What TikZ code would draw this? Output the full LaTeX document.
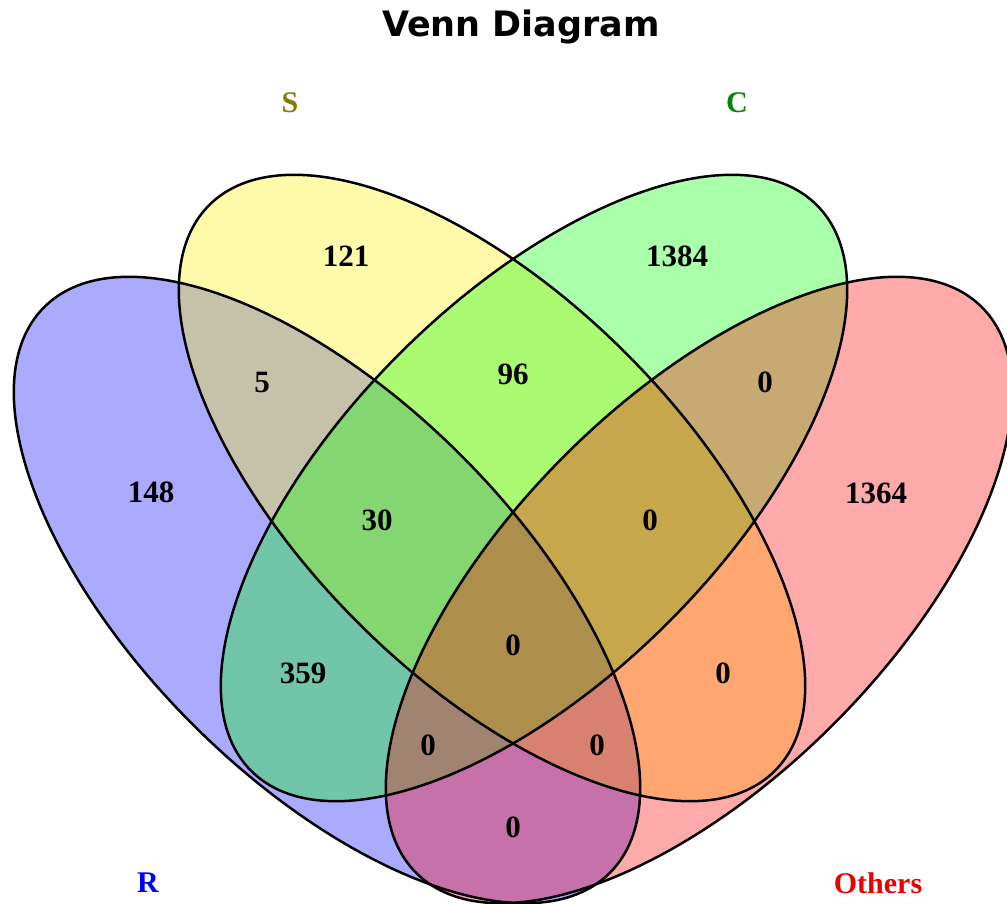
\documentclass[tikz,border=0pt]{standalone}
\usepackage{fontspec}
\setmainfont{Liberation Serif}
\newfontfamily\titlefont{DejaVu Sans}
\definecolor{labS}{RGB}{128,128,0}
\definecolor{labC}{RGB}{0,135,0}
\definecolor{labR}{RGB}{0,0,255}
\definecolor{labO}{RGB}{235,0,0}
\begin{document}
\begin{tikzpicture}[x=1pt,y=-1pt,
  setfill/.style={fill opacity=0.333},
  outline/.style={draw=black, line width=2.5pt},
  num/.style={font=\fontsize{31}{31}\selectfont\bfseries, text=black, inner sep=0pt},
  setlabel/.style={font=\fontsize{30}{30}\selectfont\bfseries, inner sep=0pt},
]
\useasboundingbox (0,0) rectangle (1007,904);
\fill[white] (0,0) rectangle (1007,904);
% fills (order R, S, C, Others)
\fill[blue, setfill, rotate around={-45:(327,590)}] (327,590) ellipse [x radius=400pt, y radius=190pt];
\fill[yellow, setfill, rotate around={-45:(492,488)}] (492,488) ellipse [x radius=400pt, y radius=190pt];
\fill[green, setfill, rotate around={45:(534,488)}] (534,488) ellipse [x radius=400pt, y radius=190pt];
\fill[red, setfill, rotate around={45:(699,590)}] (699,590) ellipse [x radius=400pt, y radius=190pt];
% outlines
\draw[outline, rotate around={-45:(327,590)}] (327,590) ellipse [x radius=400pt, y radius=190pt];
\draw[outline, rotate around={-45:(492,488)}] (492,488) ellipse [x radius=400pt, y radius=190pt];
\draw[outline, rotate around={45:(534,488)}] (534,488) ellipse [x radius=400pt, y radius=190pt];
\draw[outline, rotate around={45:(699,590)}] (699,590) ellipse [x radius=400pt, y radius=190pt];
% title
\node[font=\titlefont\fontsize{35}{35}\selectfont\bfseries, anchor=base, inner sep=0pt] (title) at (521,37) {Venn Diagram};
% set labels
\node[setlabel, text=labS] (labelS) at (290,103) {S};
\node[setlabel, text=labC] (labelC) at (737,103) {C};
\node[setlabel, text=labR] (labelR) at (148,883) {R};
\node[setlabel, text=labO] (labelO) at (878,883) {Others};
% counts
\node[num] (nS) at (346,256) {121};
\node[num] (nC) at (677,256) {1384};
\node[num] (nRS) at (262,383) {5};
\node[num] (nSC) at (513,374) {96};
\node[num] (nCO) at (765,382) {0};
\node[num] (nR) at (151,492) {148};
\node[num] (nRSC) at (377,520) {30};
\node[num] (nSCO) at (650,520) {0};
\node[num] (nO) at (876,493) {1364};
\node[num] (nAll) at (513,645) {0};
\node[num] (nRC) at (303,673) {359};
\node[num] (nSO) at (723,673) {0};
\node[num] (nRCO) at (428,745) {0};
\node[num] (nRSO) at (597,745) {0};
\node[num] (nRO) at (513,827) {0};
\end{tikzpicture}
\end{document}
